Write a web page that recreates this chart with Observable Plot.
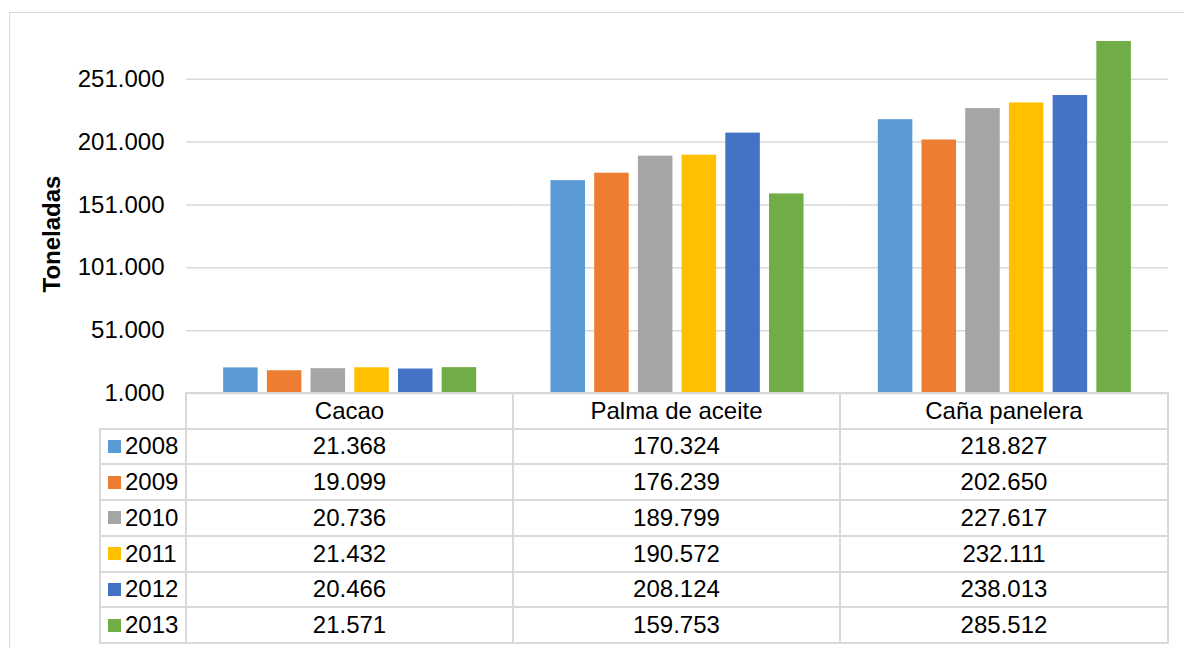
<!DOCTYPE html>
<html><head><meta charset="utf-8">
<script src="https://cdn.jsdelivr.net/npm/d3@7"></script>
<script src="https://cdn.jsdelivr.net/npm/@observablehq/plot@0.6"></script>
<style>
body{margin:0;background:#fff;font-family:"Liberation Sans",Arial,sans-serif;}
#wrap{position:relative;width:1184px;height:648px;overflow:hidden;}
#frame{position:absolute;left:9px;top:12px;width:1200px;height:700px;border:1.5px solid #d9d9d9;box-sizing:border-box;}
#chart{position:absolute;left:0;top:0;}
#ylab{position:absolute;left:52px;top:234px;transform:translate(-50%,-50%) rotate(-90deg);font-size:24px;font-weight:bold;color:#000;white-space:nowrap;}
.ln{position:absolute;background:#d9d9d9;}
.cell{position:absolute;display:flex;align-items:center;justify-content:center;font-size:24px;color:#000;white-space:nowrap;}
.leg{justify-content:flex-start;padding-left:8px;box-sizing:border-box;}
.sw{width:13px;height:13px;margin-right:4px;display:inline-block;}
</style></head><body>
<div id="wrap"><div id="frame"></div><div id="chart"></div><div id="ylab"></div><div id="table"></div></div>
<script>
// ---- data ----
const categories = ["Cacao", "Palma de aceite", "Caña panelera"];
const years = ["2008", "2009", "2010", "2011", "2012", "2013"];
const colors = ["#5B9BD5", "#ED7D31", "#A5A5A5", "#FFC000", "#4472C4", "#70AD47"];
const v2008 = [21368, 170324, 218827];
const v2009 = [19099, 176239, 202650];
const v2010 = [20736, 189799, 227617];
const v2011 = [21432, 190572, 232111];
const v2012 = [20466, 208124, 238013];
const v2013 = [21571, 159753, 285512];
const yTicks = [1000, 51000, 101000, 151000, 201000, 251000];
const yLabel = "Toneladas";

const series = [v2008, v2009, v2010, v2011, v2012, v2013];
const rows = [];
years.forEach((y, i) => categories.forEach((c, j) => rows.push({year: y, category: c, value: series[i][j]})));

const loc = d3.formatLocale({decimal: ",", thousands: ".", grouping: [3], currency: ["", ""]});
const fmt = loc.format(",");

const W = 1184, H = 410;
const chart = Plot.plot({
  width: W, height: H,
  marginLeft: 186, marginRight: 16, marginTop: 41, marginBottom: 17,
  style: {fontSize: "24px", fontFamily: "Liberation Sans, Arial, sans-serif", color: "#000", background: "transparent"},
  fx: {domain: categories, padding: 0, axis: null, round: false},
  x: {domain: years, paddingInner: 0.21, paddingOuter: 0.85, axis: null, round: false},
  y: {domain: [1000, 281000], clamp: true},
  color: {domain: years, range: colors},
  marks: [
    Plot.ruleY(yTicks, {stroke: "#d9d9d9", strokeWidth: 1.5}),
    Plot.axisY({ticks: yTicks, tickFormat: fmt, tickSize: 0, tickPadding: 22, label: null}),
    Plot.barY(rows, {fx: "category", x: "year", y1: 1000, y2: "value", fill: "year"})
  ]
});
document.getElementById("chart").appendChild(chart);
document.getElementById("ylab").textContent = yLabel;

// ---- data table (legend + values) ----
const tbl = document.getElementById("table");
const colX = [100, 186, 513, 840, 1168];
const top0 = 393, headH = 35.5, rowH = 35.75;
const rowY = [top0, top0 + headH];
for (let i = 0; i < years.length; i++) rowY.push(top0 + headH + rowH * (i + 1));
const lw = 2;
function line(x, y, w, h) {
  const d = document.createElement("div"); d.className = "ln";
  d.style.left = x + "px"; d.style.top = y + "px"; d.style.width = w + "px"; d.style.height = h + "px";
  tbl.appendChild(d);
}
function cell(x, y, w, h, html, cls) {
  const d = document.createElement("div"); d.className = "cell" + (cls ? " " + cls : "");
  d.style.left = x + "px"; d.style.top = y + "px"; d.style.width = w + "px"; d.style.height = h + "px";
  d.innerHTML = html; tbl.appendChild(d);
}
line(colX[1] - lw / 2, rowY[0] - lw / 2, colX[4] - colX[1] + lw, lw);
for (let r = 1; r < rowY.length; r++) line(colX[0] - lw / 2, rowY[r] - lw / 2, colX[4] - colX[0] + lw, lw);
line(colX[0] - lw / 2, rowY[1] - lw / 2, lw, rowY[rowY.length - 1] - rowY[1] + lw);
for (let c = 1; c < colX.length; c++) line(colX[c] - lw / 2, rowY[0] - lw / 2, lw, rowY[rowY.length - 1] - rowY[0] + lw);
categories.forEach((c, j) => cell(colX[j + 1], rowY[0], colX[j + 2] - colX[j + 1], rowY[1] - rowY[0], c));
years.forEach((y, i) => {
  cell(colX[0], rowY[i + 1], colX[1] - colX[0], rowY[i + 2] - rowY[i + 1],
       `<span class="sw" style="background:${colors[i]}"></span>${y}`, "leg");
  categories.forEach((c, j) => cell(colX[j + 1], rowY[i + 1], colX[j + 2] - colX[j + 1], rowY[i + 2] - rowY[i + 1], fmt(series[i][j])));
});
</script>
</body></html>
